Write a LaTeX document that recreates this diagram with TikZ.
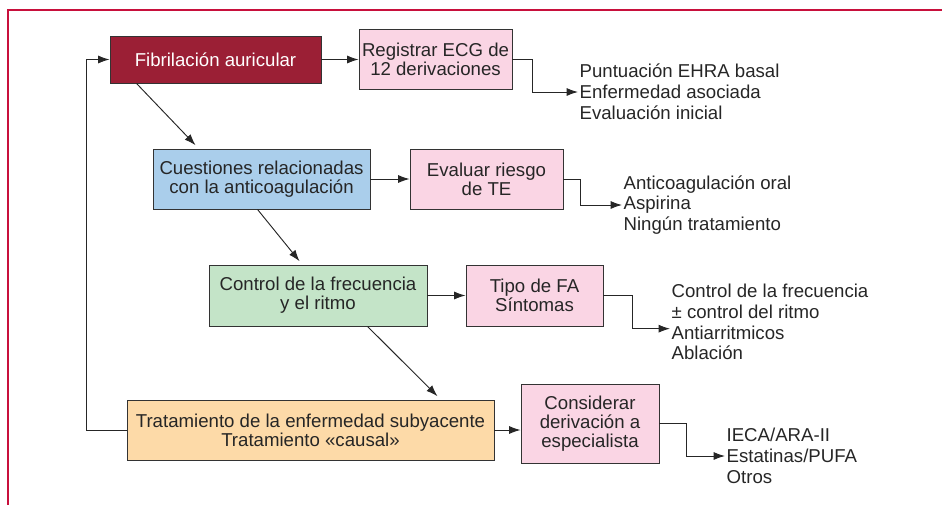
\documentclass[tikz,border=0pt]{standalone}
\usepackage{fontspec}
\setmainfont{Liberation Sans}
\usepackage{xcolor}
\usetikzlibrary{
    arrows.meta,
    positioning,
    calc
}
\definecolor{framered}{RGB}{200,16,60}
\definecolor{fared}{RGB}{155,31,53}
\definecolor{boxpink}{RGB}{250,213,228}
\definecolor{boxblue}{RGB}{170,206,235}
\definecolor{boxgreen}{RGB}{196,228,200}
\definecolor{boxorange}{RGB}{253,218,168}
\tikzset{%
    >={Latex[width=2.4mm,length=3.4mm]},
    % Specifications for style of nodes:
    base/.style = {
        rectangle, draw=black!80, line width=0.8pt,
        text centered, align=center, inner sep=0pt,
        font=\fontsize{15.9}{16.3}\selectfont, text=black!85
    },
    list/.style = {
        anchor=west, align=left, inner sep=1pt,
        font=\fontsize{15.9}{17.8}\selectfont, text=black!85
    }
}
\begin{document}
\begin{tikzpicture}[x=0.3mm, y=-0.3mm, line width=0.8pt, draw=black!85,
                main-node/.style={base, minimum height=18mm},
                side-node/.style={base, fill=boxpink, minimum height=18mm}]
                \useasboundingbox (0,0) rectangle (942,505);
                \draw[framered, line width=1.6pt] (942,10) -- (8,10) -- (8,505);
                % left column
                \node[main-node, fill=fared, text=white, minimum width=63.3mm, minimum height=14.1mm] (B1) at (215.5,59.5) {Fibrilación auricular};
                \node[main-node, fill=boxblue, minimum width=65.1mm] (B2) at (261.5,179) {Cuestiones relacionadas\\con la anticoagulación};
                \node[main-node, fill=boxgreen, minimum width=65.4mm, minimum height=18.3mm] (B3) at (318,295.5) {Control de la frecuencia\\y el ritmo};
                \node[main-node, fill=boxorange, minimum width=110.1mm] (B4) at (310.5,430) {Tratamiento de la enfermedad subyacente\\Tratamiento «causal»};
                % pink boxes
                \node[side-node, minimum width=45.9mm] (S1) at (435.5,59) {Registrar ECG de\\12 derivaciones};
                \node[side-node, minimum width=45.9mm] (S2) at (486.5,179) {Evaluar riesgo\\de TE};
                \node[side-node, minimum width=41.1mm, minimum height=18.3mm] (S3) at (534.5,295.5) {Tipo de FA\\Síntomas};
                \node[side-node, minimum width=41.4mm, minimum height=23.7mm] (S4) at (590,423.5) {Considerar\\derivación a\\especialista};
                % lists
                \node[list] (L1) at (578,92) {Puntuación EHRA basal\\Enfermedad asociada\\Evaluación inicial};
                \node[list] (L2) at (622,205) {Anticoagulación oral\\Aspirina\\Ningún tratamiento};
                \node[list] (L3) at (670,322) {Control de la frecuencia\\± control del ritmo\\Antiarritmicos\\Ablación};
                \node[list] (L4) at (725,456) {IECA/ARA-II\\Estatinas/PUFA\\Otros};
                % arrows
                \draw[->] (B1.east) -- (B1.east -| S1.west);
                \draw[->] (B2.east) -- (S2.west);
                \draw[->] (B3.east) -- (S3.west);
                \draw[->] (B4.east) -- (B4.east -| S4.west);
                \draw[->] ([xshift=8.1mm]B1.south west) -- ([xshift=12.9mm,yshift=1mm]B2.north west);
                \draw[->] ([xshift=31.5mm]B2.south west) -- ([xshift=27.3mm,yshift=1mm]B3.north west);
                \draw[->] ([xshift=47.7mm]B3.south west) -- ([xshift=-17.1mm,yshift=1mm]B4.north east);
                \draw[->] (B4.west) -- ++(-40,0) |- (B1.west);
                \draw[->] (S1.east) -- ++(20,0) |- (L1.west);
                \draw[->] (S2.east) -- ++(17,0) |- (L2.west);
                \draw[->] (S3.east) -- ++(29,0) |- ([yshift=-2mm]L3.west);
                \draw[->] (S4.east) -- ++(27,0) |- (L4.west);
            \end{tikzpicture}
\end{document}
